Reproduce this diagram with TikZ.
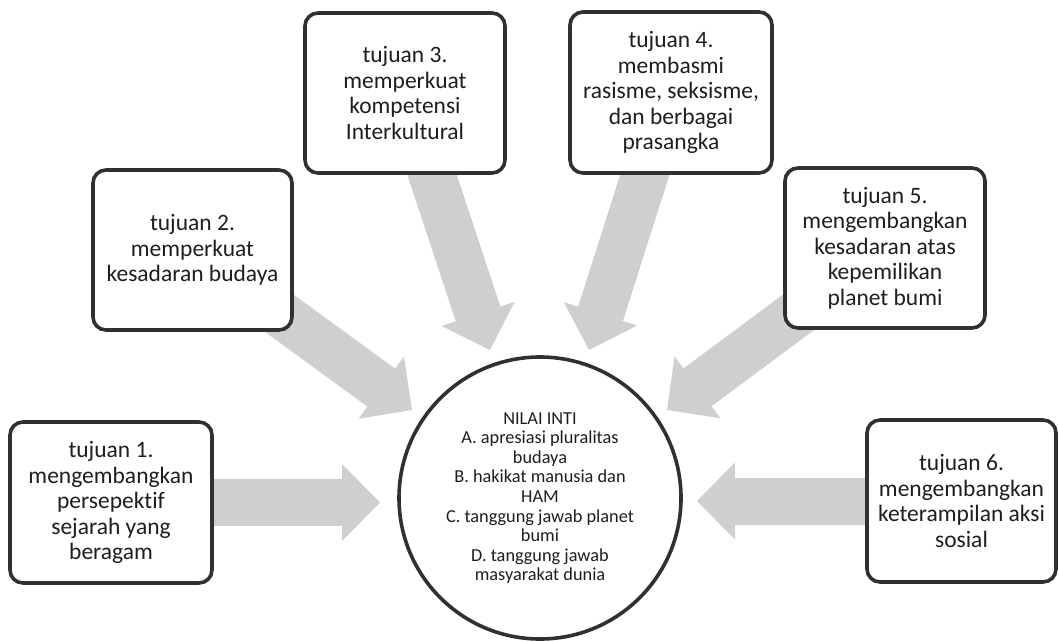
\documentclass[tikz,border=0pt]{standalone}
\usepackage{fontspec}
\setmainfont{Carlito}[Ligatures={NoCommon}, Contextuals={NoAlternate}]
\usetikzlibrary{arrows.meta,backgrounds}
\definecolor{arrowgray}{HTML}{CFCFCF}
\definecolor{edgecol}{HTML}{303030}
\definecolor{ink}{HTML}{1E1E1E}
\begin{document}
\begin{tikzpicture}[x=1pt,y=-1pt,
  goal/.style={draw=edgecol, line width=3.6pt, rounded corners=13pt, fill=white,
    align=center, text=ink, font=\fontsize{23.5}{25.5}\selectfont, inner sep=0pt},
  core/.style={draw=edgecol, line width=3.6pt, circle, minimum size=282pt, fill=white,
    inner sep=0pt, align=center, text=ink, font=\fontsize{18.3}{19.6}\selectfont},
  fat/.style={draw=arrowgray, line width=47pt,
    -{Triangle[width=77pt,length=38pt,line width=0pt]}},
]
\useasboundingbox (0,0) rectangle (1059,640);

\node[goal, minimum width=202pt, minimum height=161pt] (g1) at (111,502.5)
  {tujuan 1.\\mengembangkan\\persepektif\\sejarah yang\\beragam};
\node[goal, minimum width=199pt, minimum height=160pt] (g2) at (192.5,250)
  {tujuan 2.\\memperkuat\\kesadaran budaya};
\node[goal, minimum width=200pt, minimum height=160pt] (g3) at (405,93)
  {tujuan 3.\\memperkuat\\kompetensi\\Interkultural};
\node[goal, minimum width=202pt, minimum height=161pt] (g4) at (671,92.5)
  {tujuan 4.\\membasmi\\rasisme, seksisme,\\dan berbagai\\prasangka};
\node[goal, minimum width=200pt, minimum height=160pt] (g5) at (885,248)
  {tujuan 5.\\mengembangkan\\kesadaran atas\\kepemilikan\\planet bumi};
\node[goal, minimum width=189pt, minimum height=162pt] (g6) at (961.5,501)
  {tujuan 6.\\mengembangkan\\keterampilan aksi\\sosial};

\node[core] (c) at (540,498)
  {NILAI INTI\\A. apresiasi pluralitas\\budaya\\B. hakikat manusia dan\\HAM\\C. tanggung jawab planet\\bumi\\D. tanggung jawab\\masyarakat dunia};

\coordinate (t1) at (380,502.5);
\coordinate (t2) at (412,410);
\coordinate (t3) at (490,350);
\coordinate (t4) at (589,350);
\coordinate (t5) at (667,410);
\coordinate (t6) at (697,501);

\begin{scope}[on background layer]
\draw[fat] (g1.east) -- (t1);
\draw[fat] (g2.center) -- (t2);
\draw[fat] (g3.center) -- (t3);
\draw[fat] (g4.center) -- (t4);
\draw[fat] (g5.center) -- (t5);
\draw[fat] (g6.west) -- (t6);
\end{scope}
\end{tikzpicture}
\end{document}
